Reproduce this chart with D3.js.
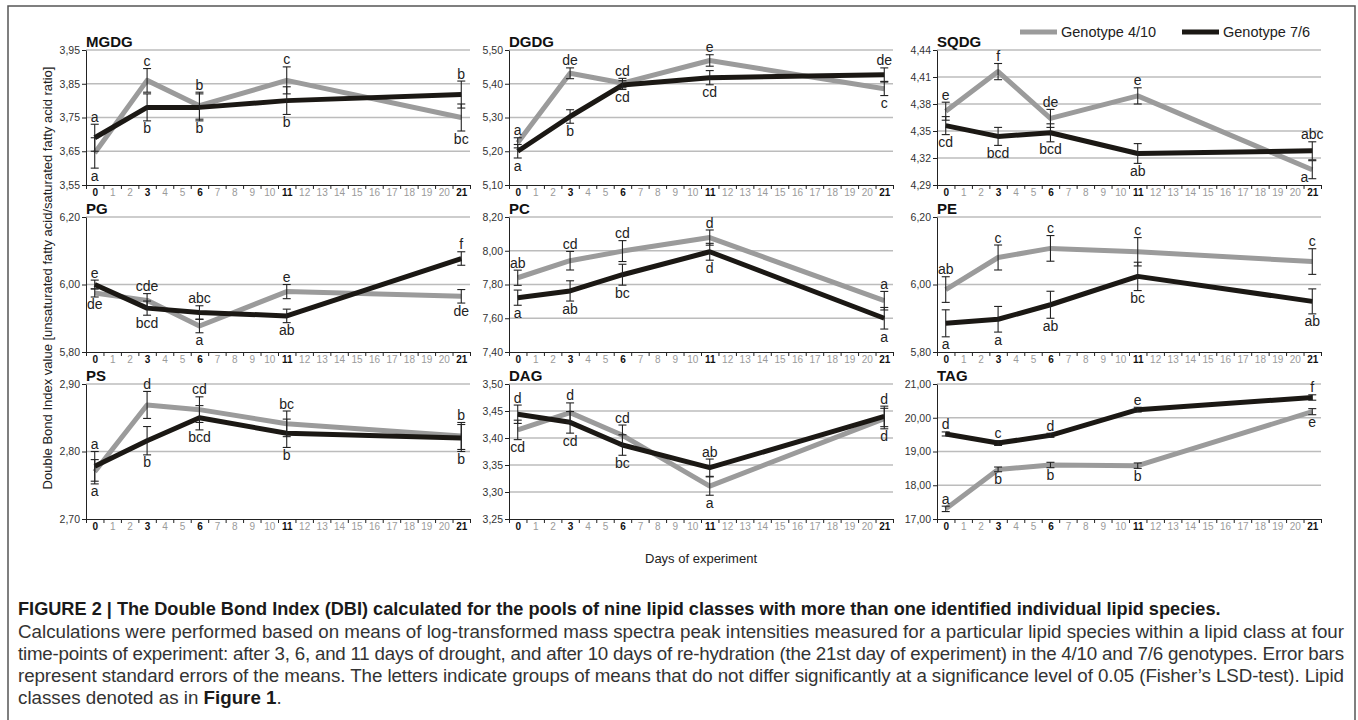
<!DOCTYPE html>
<html>
<head>
<meta charset="utf-8">
<script src="https://cdn.jsdelivr.net/npm/d3@7"></script>
<style>
  body { margin: 0; background: #fff; }
  svg { display: block; font-family: "Liberation Sans", Arial, sans-serif; }
</style>
</head>
<body>
<div id="chart"></div>
<script>
let svgWidth = 1358;
let svgHeight = 720;

// Data =========================

let panelNames = ["MGDG", "DGDG", "SQDG", "PG", "PC", "PE", "PS", "DAG", "TAG"];
let seriesNames = ["Genotype 4/10", "Genotype 7/6"];
let days = [0, 3, 6, 11, 21];
let dayLabels = d3.range(0, 22);
let boldDays = [0, 3, 6, 11, 21];

let yTicks = [
  [3.55, 3.65, 3.75, 3.85, 3.95],
  [5.10, 5.20, 5.30, 5.40, 5.50],
  [4.29, 4.32, 4.35, 4.38, 4.41, 4.44],
  [5.80, 6.00, 6.20],
  [7.40, 7.60, 7.80, 8.00, 8.20],
  [5.80, 6.00, 6.20],
  [2.70, 2.80, 2.90],
  [3.25, 3.30, 3.35, 3.40, 3.45, 3.50],
  [17, 18, 19, 20, 21]
];

// Genotype 4/10 (grey)
let mean410 = [
  [3.645, 3.860, 3.785, 3.860, 3.750],
  [5.225, 5.431, 5.402, 5.469, 5.385],
  [4.372, 4.416, 4.364, 4.389, 4.307],
  [5.975, 5.953, 5.877, 5.979, 5.965],
  [7.840, 7.941, 7.998, 8.078, 7.704],
  [5.985, 6.080, 6.107, 6.097, 6.068],
  [2.770, 2.869, 2.862, 2.841, 2.823],
  [3.415, 3.447, 3.405, 3.311, 3.436],
  [17.30, 18.47, 18.60, 18.58, 20.18]
];
let se410 = [
  [0.045, 0.035, 0.040, 0.040, 0.040],
  [0.015, 0.016, 0.014, 0.017, 0.020],
  [0.010, 0.009, 0.010, 0.009, 0.010],
  [0.012, 0.020, 0.020, 0.021, 0.020],
  [0.045, 0.055, 0.062, 0.045, 0.055],
  [0.038, 0.037, 0.038, 0.042, 0.038],
  [0.018, 0.020, 0.019, 0.019, 0.020],
  [0.018, 0.018, 0.019, 0.017, 0.019],
  [0.08, 0.07, 0.08, 0.08, 0.09]
];
let letters410 = [
  ["a", "c", "b", "c", "bc"],
  ["a", "de", "cd", "e", "c"],
  ["e", "f", "de", "e", "a"],
  ["de", "cde", "a", "e", "de"],
  ["ab", "cd", "cd", "d", "a"],
  ["ab", "c", "c", "c", "c"],
  ["a", "d", "cd", "bc", "b"],
  ["cd", "d", "cd", "a", "d"],
  ["a", "b", "b", "b", "e"]
];

// Genotype 7/6 (black)
let mean76 = [
  [3.690, 3.780, 3.780, 3.800, 3.818],
  [5.200, 5.303, 5.396, 5.418, 5.427],
  [4.356, 4.344, 4.348, 4.325, 4.328],
  [6.000, 5.930, 5.917, 5.907, 6.077],
  [7.722, 7.762, 7.858, 7.994, 7.600],
  [5.885, 5.897, 5.940, 6.024, 5.950],
  [2.778, 2.816, 2.850, 2.827, 2.820],
  [3.444, 3.429, 3.387, 3.345, 3.440],
  [19.52, 19.25, 19.48, 20.24, 20.60]
];
let se76 = [
  [0.040, 0.040, 0.040, 0.041, 0.040],
  [0.020, 0.020, 0.013, 0.021, 0.020],
  [0.010, 0.010, 0.010, 0.011, 0.010],
  [0.013, 0.021, 0.020, 0.020, 0.020],
  [0.045, 0.060, 0.062, 0.050, 0.064],
  [0.040, 0.038, 0.040, 0.042, 0.037],
  [0.022, 0.021, 0.018, 0.021, 0.020],
  [0.017, 0.020, 0.019, 0.016, 0.019],
  [0.06, 0.07, 0.06, 0.07, 0.08]
];
let letters76 = [
  ["a", "b", "b", "b", "b"],
  ["a", "b", "cd", "cd", "de"],
  ["cd", "bcd", "bcd", "ab", "abc"],
  ["e", "bcd", "abc", "ab", "f"],
  ["a", "ab", "bc", "d", "a"],
  ["a", "a", "ab", "bc", "ab"],
  ["a", "b", "bcd", "b", "b"],
  ["d", "cd", "bc", "ab", "d"],
  ["d", "c", "d", "e", "f"]
];

let captionTitle = "FIGURE 2 | The Double Bond Index (DBI) calculated for the pools of nine lipid classes with more than one identified individual lipid species.";
let captionLines = [
  "Calculations were performed based on means of log-transformed mass spectra peak intensities measured for a particular lipid species within a lipid class at four",
  "time-points of experiment: after 3, 6, and 11 days of drought, and after 10 days of re-hydration (the 21st day of experiment) in the 4/10 and 7/6 genotypes. Error bars",
  "represent standard errors of the means. The letters indicate groups of means that do not differ significantly at a significance level of 0.05 (Fisher\u2019s LSD-test). Lipid"
];

// Layout =========================

let panelLeft = [86, 509, 937];
let panelTop = [50, 217, 384];
let panelW = 384;
let panelH = 135;
let colors = ["#9b9b9b", "#1b1814"];

let fmt = v => d3.format(".2f")(v).replace(".", ",");

let svg = d3.select("#chart").append("svg")
  .attr("width", svgWidth)
  .attr("height", svgHeight);

svg.append("rect").attr("width", svgWidth).attr("height", svgHeight).attr("fill", "#fff");

// frame
svg.append("path")
  .attr("d", "M8,721V6H1355V721")
  .attr("fill", "none")
  .attr("stroke", "#555")
  .attr("stroke-width", 1.5);

// Panels =========================

let drawPanel = (name, i) => {
  let g = svg.append("g")
    .attr("transform", `translate(${panelLeft[i % 3]}, ${panelTop[Math.floor(i / 3)]})`);
  let ticks = yTicks[i];

  let x = d3.scaleLinear().domain([-0.5, 21.5]).range([0, panelW]);
  let y = d3.scaleLinear().domain([ticks[0], ticks[ticks.length - 1]]).range([panelH, 0]);

  // grid
  g.append("g").selectAll("line")
    .data(ticks.slice(1))
    .enter()
    .append("line")
    .attr("x1", 0)
    .attr("x2", panelW)
    .attr("y1", d => y(d))
    .attr("y2", d => y(d))
    .attr("stroke", "#bcbcbc")
    .attr("stroke-width", 1.3);

  // y axis
  let yAxis = g.append("g")
    .call(d3.axisLeft(y).tickValues(ticks).tickSize(4).tickSizeOuter(0).tickPadding(2).tickFormat(fmt));
  yAxis.attr("font-family", null).attr("font-size", 10.5);
  yAxis.selectAll("text").attr("fill", "#333");
  yAxis.selectAll("line, path").attr("stroke", "#222");

  // x axis: tick marks between days
  let xTicks = g.append("g")
    .attr("transform", `translate(0, ${panelH})`)
    .call(d3.axisBottom(x).tickValues(d3.range(-0.5, 22, 1)).tickSize(4).tickSizeOuter(0).tickFormat(""));
  xTicks.selectAll("line, path").attr("stroke", "#222");

  // x axis: day labels
  let xLabels = g.append("g")
    .attr("transform", `translate(0, ${panelH})`)
    .call(d3.axisBottom(x).tickValues(dayLabels).tickSize(0).tickPadding(4));
  xLabels.attr("font-family", null).attr("font-size", 10);
  xLabels.select(".domain").remove();
  xLabels.selectAll("text")
    .attr("font-weight", d => boldDays.includes(d) ? "bold" : "normal")
    .attr("fill", d => boldDays.includes(d) ? "#111" : "#9a9a9a");

  // title
  g.append("text")
    .attr("x", 0)
    .attr("y", -3)
    .attr("font-size", 15)
    .attr("font-weight", "bold")
    .attr("fill", "#111")
    .text(name);

  let means = [mean410[i], mean76[i]];
  let errs = [se410[i], se76[i]];
  let letters = [letters410[i], letters76[i]];

  // lines
  let line = d3.line()
    .x((d, j) => x(days[j]))
    .y(d => y(d));

  means.forEach((m, s) => {
    g.append("path")
      .datum(m)
      .attr("d", line)
      .attr("fill", "none")
      .attr("stroke", colors[s])
      .attr("stroke-width", 5)
      .attr("stroke-linejoin", "round");
  });

  // error bars
  means.forEach((m, s) => {
    let bars = g.append("g").selectAll("g")
      .data(m)
      .enter()
      .append("g")
      .attr("stroke", "#222")
      .attr("stroke-width", 1.1);
    bars.append("line")
      .attr("x1", (d, j) => x(days[j]))
      .attr("x2", (d, j) => x(days[j]))
      .attr("y1", (d, j) => y(d - errs[s][j]))
      .attr("y2", (d, j) => y(d + errs[s][j]));
    [-1, 1].forEach(sign => {
      bars.append("line")
        .attr("x1", (d, j) => x(days[j]) - 4)
        .attr("x2", (d, j) => x(days[j]) + 4)
        .attr("y1", (d, j) => y(d + sign * errs[s][j]))
        .attr("y2", (d, j) => y(d + sign * errs[s][j]));
    });
  });

  // significance letters: upper series above its bar, lower series below
  let letterG = g.append("g").attr("font-size", 14).attr("fill", "#222").attr("text-anchor", "middle");
  days.forEach((day, j) => {
    let up = means[0][j] > means[1][j] ? 0 : 1;
    let lo = 1 - up;
    let cx = x(day);
    let upTop = y(means[up][j] + errs[up][j]);
    let upBottom = y(means[up][j] - errs[up][j]);
    let loTop = y(means[lo][j] + errs[lo][j]);
    let loBottom = y(means[lo][j] - errs[lo][j]);

    letterG.append("text").attr("x", cx).attr("y", upTop - 2.5).text(letters[up][j]);

    if (loBottom + 13 <= panelH) {
      letterG.append("text").attr("x", cx).attr("y", loBottom + 12.5).text(letters[lo][j]);
    } else if (loTop - upBottom > 18) {
      letterG.append("text").attr("x", cx).attr("y", loTop - 2.5).text(letters[lo][j]);
    } else {
      letterG.append("text").attr("x", cx - 4).attr("y", loBottom + 3.5)
        .attr("text-anchor", "end").text(letters[lo][j]);
    }
  });
};

panelNames.forEach(drawPanel);

// Axis titles =========================

svg.append("text")
  .attr("transform", "translate(52, 278) rotate(-90)")
  .attr("text-anchor", "middle")
  .attr("font-size", 13)
  .attr("fill", "#222")
  .text("Double Bond Index value [unsaturated fatty acid/saturated fatty acid ratio]");

svg.append("text")
  .attr("x", panelLeft[1] + panelW / 2)
  .attr("y", 563)
  .attr("text-anchor", "middle")
  .attr("font-size", 13)
  .attr("fill", "#222")
  .text("Days of experiment");

// Legend =========================

let legend = svg.append("g").attr("transform", "translate(1020, 32)");
let legendX = [0, 162];
seriesNames.forEach((n, s) => {
  legend.append("line")
    .attr("x1", legendX[s])
    .attr("x2", legendX[s] + 37)
    .attr("stroke", colors[s])
    .attr("stroke-width", 5);
  legend.append("text")
    .attr("x", legendX[s] + 41)
    .attr("y", 5.2)
    .attr("font-size", 14.5)
    .attr("fill", "#222")
    .text(n);
});

// Caption =========================

let capFont = "'Liberation Sans Narrow', 'Arial Narrow', 'Liberation Sans', Arial, sans-serif";
let capLeft = 18;
let capWidth = 1326;
let titleWidth = 1204;

let fitSize = (text, weight, width) => {
  let probe = svg.append("text")
    .attr("font-family", capFont)
    .attr("font-weight", weight)
    .attr("font-size", 10)
    .text(text);
  let size = 10 * width / probe.node().getComputedTextLength();
  probe.remove();
  return size;
};

let capSize = fitSize(captionLines[0], "normal", capWidth);
let titleSize = Math.min(capSize, fitSize(captionTitle, "bold", titleWidth));

let caption = svg.append("g")
  .attr("font-family", capFont)
  .attr("font-size", capSize);

caption.append("text")
  .attr("x", capLeft)
  .attr("y", 615)
  .attr("font-weight", "bold")
  .attr("font-size", titleSize)
  .attr("fill", "#1a1a1a")
  .text(captionTitle);

captionLines.forEach((t, k) => {
  caption.append("text")
    .attr("x", capLeft)
    .attr("y", 638 + k * 22)
    .attr("fill", "#333")
    .attr("textLength", capWidth)
    .attr("lengthAdjust", "spacing")
    .text(t);
});

let last = caption.append("text")
  .attr("x", capLeft)
  .attr("y", 638 + 3 * 22)
  .attr("fill", "#333");
last.append("tspan").text("classes denoted as in ");
last.append("tspan").attr("font-weight", "bold").attr("fill", "#1a1a1a").text("Figure 1");
last.append("tspan").text(".");
</script>
</body>
</html>
